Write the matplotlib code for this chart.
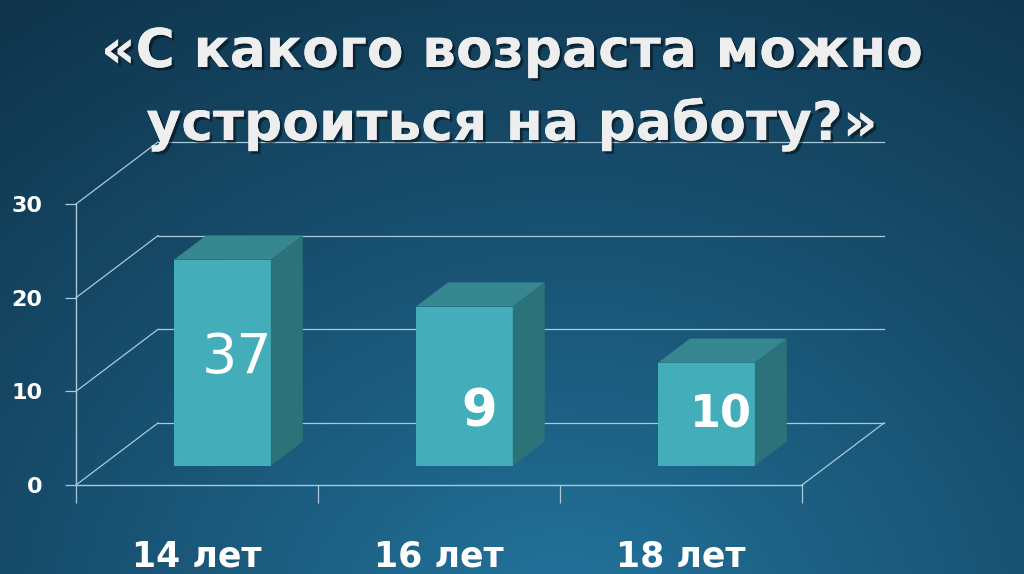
import numpy as np
import matplotlib
matplotlib.use("Agg")
import matplotlib.pyplot as plt
from matplotlib import patheffects as pe
from matplotlib.colors import to_rgb

# ---- data ----
categories = ["14 лет", "16 лет", "18 лет"]
values = [22, 17, 11]              # drawn bar heights
value_labels = ["37", "9", "10"]   # text written on bars
label_heights = [13.6, 7.7, 7.5]
label_weights = ["normal", "bold", "bold"]
label_sizes = [40, 37, 32]
yticks = [0, 10, 20, 30]
title_lines = ["«С какого возраста можно", "устроиться на работу?»"]

W, H = 1024, 574
fig = plt.figure(figsize=(W / 100, H / 100), dpi=100)

# ---- background gradient ----
bg = fig.add_axes([0, 0, 1, 1])
bg.set_axis_off()
yy, xx = np.mgrid[0:1:287j, 0:1:512j]
dist = np.sqrt(((xx - 0.55) * 1.5) ** 2 + (yy - 1.1) ** 2)
t = np.clip(dist / 1.45, 0, 1) ** 0.85
light = np.array(to_rgb("#2478a2"))
dark = np.array(to_rgb("#0e3047"))
img = light[None, None, :] * (1 - t[..., None]) + dark[None, None, :] * t[..., None]
bg.imshow(img, extent=[0, 1, 0, 1], aspect="auto", origin="upper")
bg.set_xlim(0, 1)
bg.set_ylim(0, 1)

# ---- main pseudo-3D axes ----
x0, x1 = 76, 802
y0, y30 = 485, 204
ax = fig.add_axes([x0 / W, (H - y0) / H, (x1 - x0) / W, (y0 - y30) / H])
ax.patch.set_visible(False)
ax.set_xlim(0, 3)
ax.set_ylim(0, 30)

line_c = "#a9cadb"
for s in ["top", "right"]:
    ax.spines[s].set_visible(False)
for s in ["left", "bottom"]:
    ax.spines[s].set_color(line_c)
    ax.spines[s].set_linewidth(1.0)

# depth in data units
DX = 82 / ((x1 - x0) / 3)
DY = 62 / ((y0 - y30) / 30)

# back wall gridlines and side wall obliques
for v in yticks:
    ax.plot([DX, 3 + DX], [v + DY, v + DY], color=line_c, lw=0.9, clip_on=False, zorder=1)
    ax.plot([0, DX], [v, v + DY], color=line_c, lw=0.9, clip_on=False, zorder=1)
ax.plot([3, 3 + DX], [0, DY], color=line_c, lw=0.9, clip_on=False, zorder=1)

# bars
front_c, top_c, side_c = "#43adba", "#378791", "#2c7279"
d0, dd, w = 0.31, 0.39, 0.40
centers = np.arange(len(categories)) + 0.5
fx = centers + d0 * DX
bottom = d0 * DY
ax.bar(fx, values, width=w, bottom=bottom, color=front_c, zorder=3, clip_on=False)
for cx, v in zip(fx, values):
    xl, xr = cx - w / 2, cx + w / 2
    yb, yt = bottom, bottom + v
    ax.fill([xl, xr, xr + dd * DX, xl + dd * DX], [yt, yt, yt + dd * DY, yt + dd * DY],
            color=top_c, zorder=3, clip_on=False, lw=0)
    ax.fill([xr, xr + dd * DX, xr + dd * DX, xr], [yb, yb + dd * DY, yt + dd * DY, yt],
            color=side_c, zorder=3, clip_on=False, lw=0)

for cx, lab, lh, fw, fs in zip(fx, value_labels, label_heights, label_weights, label_sizes):
    ax.text(cx + 0.06, lh, lab, ha="center", va="center", color="white",
            fontsize=fs, fontweight=fw, family="DejaVu Sans", zorder=5)

# ticks
ax.set_yticks(yticks)
ax.set_yticklabels([str(v) for v in yticks], color="white", fontsize=16,
                   fontweight="bold", family="DejaVu Sans")
ax.tick_params(axis="y", length=8, width=0.9, color=line_c, pad=16)
ax.set_xticks([0, 1, 2, 3])
ax.set_xticklabels([])
ax.tick_params(axis="x", which="major", length=13, width=0.9, color=line_c)
ax.set_xticks(centers, minor=True)
ax.set_xticklabels(categories, minor=True, color="white", fontsize=25,
                   fontweight="bold", family="DejaVu Sans")
ax.tick_params(axis="x", which="minor", length=0, pad=39)

# title
shadow = [pe.withSimplePatchShadow(offset=(2, -2), shadow_rgbFace="black", alpha=0.45), pe.Normal()]
fig.text(0.5, 1 - 67 / H, title_lines[0], ha="center", va="baseline", color="#eeeeee",
         fontsize=38.5, fontweight="bold", family="DejaVu Sans", path_effects=shadow)
fig.text(0.5, 1 - 140 / H, title_lines[1], ha="center", va="baseline", color="#eeeeee",
         fontsize=38.5, fontweight="bold", family="DejaVu Sans", path_effects=shadow)

fig.savefig("out.png", dpi=100)
